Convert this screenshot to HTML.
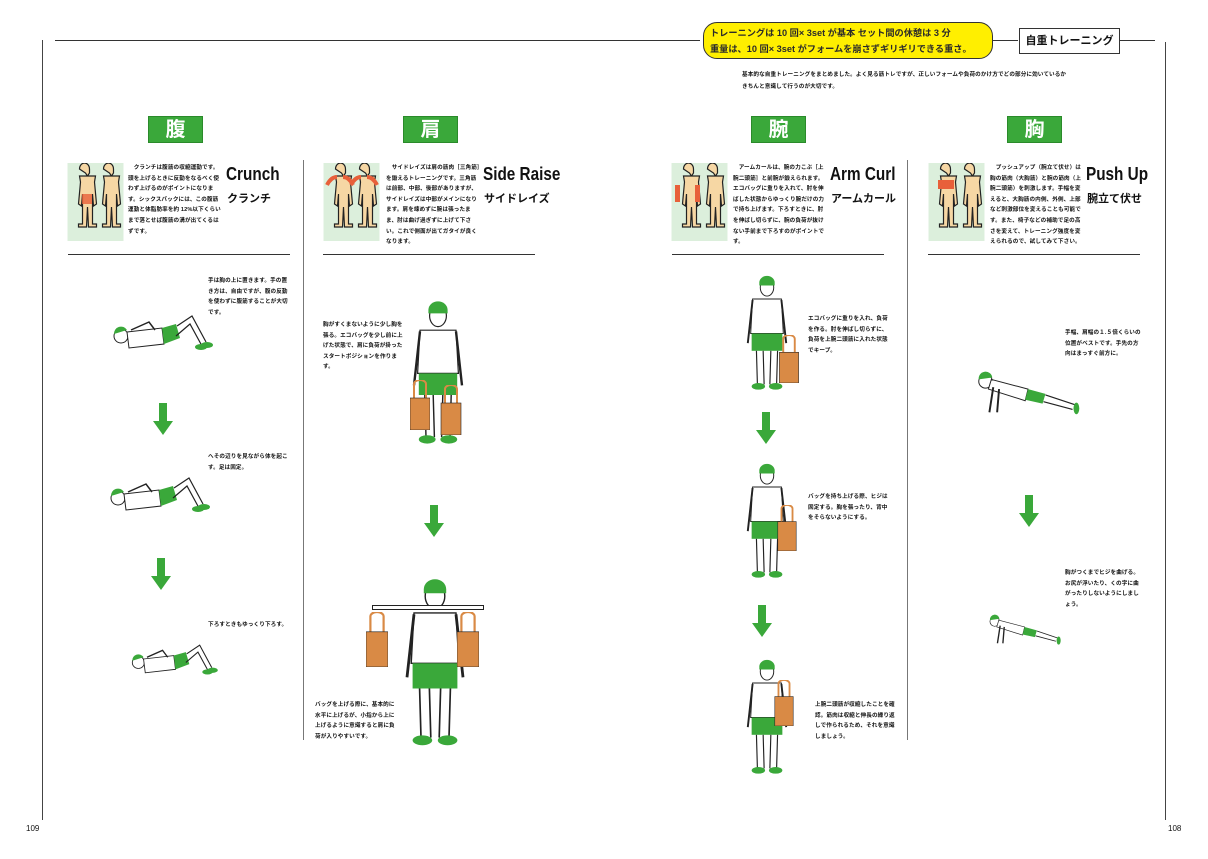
<!DOCTYPE html>
<html><head><meta charset="utf-8"><style>
*{margin:0;padding:0;box-sizing:border-box}
body{width:1208px;height:859px;background:#fff;position:relative;overflow:hidden;font-family:"Liberation Sans","Noto Sans CJK JP",sans-serif;color:#111}
.a{position:absolute}
.lbl{position:absolute;width:55px;height:27px;background:#3aa83a;color:#fff;font-size:20px;font-weight:bold;text-align:center;line-height:27px;border:1px solid #2a8a2a}
.sm{position:absolute;font-size:5.6px;line-height:10.6px;font-weight:bold;letter-spacing:0.1px}
.tt{position:absolute;font-family:"Liberation Sans Narrow","Liberation Sans",sans-serif;font-weight:bold;font-size:18px;transform:scaleX(0.85);transform-origin:left}
.tj{position:absolute;font-size:11px;font-weight:bold}
.hr{position:absolute;height:1px;background:#333}
.vr{position:absolute;width:1px;background:#777}
</style></head><body>
<svg width="0" height="0" style="position:absolute">
<defs>
<symbol id="body" viewBox="0 0 56 78">
<rect width="56" height="78" fill="#dcefdc"/>
<g fill="#f6d7a4" stroke="#222" stroke-width="1.2">
<path d="M15 6a5 6 0 0 1 10 0v4l-2 3h8l-1 6 2 22-3 2-1-12v30h4v3h-8l-1-20-1 20h-8v-3h4V31l-1 12-3-2 2-22-1-6h8l-2-3z" transform="translate(-3,0)"/>
<path d="M15 6a5 6 0 0 1 10 0v4l-2 3h8l-1 6 2 22-3 2-1-12v30h4v3h-8l-1-20-1 20h-8v-3h4V31l-1 12-3-2 2-22-1-6h8l-2-3z" transform="translate(21,0)"/>
</g></symbol>
<symbol id="stand" viewBox="0 0 50 125">
<ellipse cx="25" cy="14" rx="7" ry="9" fill="#fff" stroke="#222"/>
<path d="M17 9a8 7 0 0 1 16 0l0 3H17z" fill="#3aa83a"/>
<path d="M10 26h30l2 36H8z" fill="#fff" stroke="#222"/>
<path d="M10 27l-5 45M40 27l5 45" stroke="#222" stroke-width="2" fill="none"/>
<rect x="9" y="62" width="32" height="18" fill="#3aa83a"/>
<path d="M14 80l1 35M36 80l-1 35M21 80l1 35M29 80l-1 35" stroke="#222" stroke-width="1.2"/>
<ellipse cx="16" cy="117" rx="7" ry="3.5" fill="#3aa83a"/>
<ellipse cx="34" cy="117" rx="7" ry="3.5" fill="#3aa83a"/>
</symbol>
<symbol id="lie" viewBox="0 0 110 40">
<ellipse cx="12" cy="24" rx="7" ry="7" fill="#fff" stroke="#222"/>
<path d="M5 22a7 7 0 0 1 13-4z" fill="#3aa83a"/>
<path d="M18 20l35-4 2 16-35 4z" fill="#fff" stroke="#222"/>
<path d="M22 18l18-8 6 8" stroke="#222" fill="none" stroke-width="1.5"/>
<path d="M53 16l14-4 4 14-16 6z" fill="#3aa83a"/>
<path d="M68 14l15-10 14 26M67 24l14-12 12 22" stroke="#222" fill="none" stroke-width="1.2"/>
<ellipse cx="98" cy="33" rx="6" ry="3" fill="#3aa83a"/>
<ellipse cx="92" cy="35" rx="6" ry="3" fill="#3aa83a"/>
</symbol>
<symbol id="push" viewBox="0 0 120 50">
<ellipse cx="14" cy="14" rx="7" ry="7" fill="#fff" stroke="#222"/>
<path d="M7 12a7 7 0 0 1 14-2z" fill="#3aa83a"/>
<path d="M20 12l38 10-3 12-38-12z" fill="#fff" stroke="#222"/>
<path d="M58 22l18 5-3 10-18-4z" fill="#3aa83a"/>
<path d="M76 28l30 10M74 35l30 8" stroke="#222" stroke-width="1.2"/>
<path d="M22 20l-4 26M28 22l-2 24" stroke="#222" stroke-width="2"/>
<ellipse cx="108" cy="42" rx="3" ry="6" fill="#3aa83a"/>
</symbol>
<symbol id="arr" viewBox="0 0 20 32"><path d="M6 0h8v18h6L10 32 0 18h6z" fill="#3aa83a"/></symbol>
<symbol id="bag" viewBox="0 0 20 50"><path d="M4 18V4a6 4 0 0 1 12 0v14" stroke="#d98a45" stroke-width="2" fill="none"/><rect x="0" y="18" width="20" height="32" fill="#d98a45" stroke="#222" stroke-width=".6"/></symbol>
</defs></svg>

<!-- frame -->
<div class="hr" style="left:55px;top:40px;width:645px"></div>
<div class="hr" style="left:993px;top:40px;width:25px"></div>
<div class="hr" style="left:1120px;top:40px;width:35px"></div>
<div class="vr" style="left:42px;top:40px;height:780px;background:#444"></div>
<div class="vr" style="left:1165px;top:42px;height:778px;background:#444"></div>
<div class="a" style="left:26px;top:824px;font-size:8px">109</div>
<div class="a" style="left:1168px;top:824px;font-size:8px">108</div>

<div class="a" style="left:703px;top:22px;width:290px;height:37px;background:#ffef00;border:1.5px solid #333;border-radius:14px;padding:2px 6px;font-size:9.2px;line-height:16px;font-weight:bold;color:#2a2a2a;white-space:nowrap;overflow:hidden">トレーニングは 10 回× 3set が基本 セット間の休憩は 3 分<br>重量は、10 回× 3set がフォームを崩さずギリギリできる重さ。</div>
<div class="a" style="left:1019px;top:28px;width:101px;height:26px;border:1px solid #333;font-size:11px;font-weight:bold;text-align:center;line-height:24px">自重トレーニング</div>
<div class="sm" style="left:742px;top:69px;width:400px;line-height:12px"> 基本的な自重トレーニングをまとめました。よく見る筋トレですが、正しいフォームや負荷のかけ方でどの部分に効いているか<br>きちんと意識して行うのが大切です。</div>

<div class="lbl" style="left:148px;top:116px">腹</div>
<div class="lbl" style="left:403px;top:116px">肩</div>
<div class="lbl" style="left:751px;top:116px">腕</div>
<div class="lbl" style="left:1007px;top:116px">胸</div>

<svg class="a" style="left:67px;top:163px" width="57" height="78"><use href="#body"/><rect x="15" y="31" width="10" height="10" fill="#e8603a" opacity=".8"/></svg>
<svg class="a" style="left:323px;top:163px" width="57" height="78"><use href="#body"/><path d="M4 22q4-8 10-8M30 22q-4-8-10-8M28 22q4-8 10-8M54 22q-4-8-10-8" stroke="#e8603a" stroke-width="4" fill="none"/></svg>
<svg class="a" style="left:671px;top:163px" width="57" height="78"><use href="#body"/><rect x="4" y="22" width="5" height="17" fill="#e8603a"/><rect x="24" y="22" width="5" height="17" fill="#e8603a"/></svg>
<svg class="a" style="left:928px;top:163px" width="57" height="78"><use href="#body"/><rect x="10" y="17" width="16" height="9" fill="#e8603a"/></svg>

<div class="sm" style="left:128px;top:163px;width:95px">　クランチは腹筋の収縮運動です。頭を上げるときに反動をなるべく使わず上げるのがポイントになります。シックスパックには、この腹筋運動と体脂肪率を約 12%以下くらいまで落とせば腹筋の溝が出てくるはずです。</div>
<div class="tt" style="left:226px;top:164px">Crunch</div>
<div class="tj" style="left:227px;top:190px">クランチ</div>

<div class="sm" style="left:386px;top:163px;width:94px">　サイドレイズは肩の筋肉［三角筋］を鍛えるトレーニングです。三角筋は前部、中部、後部がありますが、サイドレイズは中部がメインになります。肩を竦めずに腕は張ったまま、肘は曲げ過ぎずに上げて下さい。これで側面が出てガタイが良くなります。</div>
<div class="tt" style="left:483px;top:164px">Side Raise</div>
<div class="tj" style="left:484px;top:190px">サイドレイズ</div>

<div class="sm" style="left:733px;top:163px;width:96px">　アームカールは、腕の力こぶ［上腕二頭筋］と前腕が鍛えられます。エコバッグに重りを入れて、肘を伸ばした状態からゆっくり腕だけの力で持ち上げます。下ろすときに、肘を伸ばし切らずに、腕の負荷が抜けない手前まで下ろすのがポイントです。</div>
<div class="tt" style="left:830px;top:164px">Arm Curl</div>
<div class="tj" style="left:831px;top:190px">アームカール</div>

<div class="sm" style="left:990px;top:163px;width:93px">　プッシュアップ（腕立て伏せ）は胸の筋肉（大胸筋）と腕の筋肉（上腕二頭筋）を刺激します。手幅を変えると、大胸筋の内側、外側、上部など刺激部位を変えることも可能です。また、椅子などの補助で足の高さを変えて、トレーニング強度を変えられるので、試してみて下さい。</div>
<div class="tt" style="left:1086px;top:164px">Push Up</div>
<div class="tj" style="left:1087px;top:190px">腕立て伏せ</div>

<div class="hr" style="left:68px;top:254px;width:222px"></div>
<div class="hr" style="left:323px;top:254px;width:212px"></div>
<div class="hr" style="left:672px;top:254px;width:212px"></div>
<div class="hr" style="left:928px;top:254px;width:212px"></div>
<div class="vr" style="left:303px;top:160px;height:580px"></div>
<div class="vr" style="left:907px;top:160px;height:580px"></div>

<!-- crunch -->
<div class="sm" style="left:208px;top:276px;width:80px">手は胸の上に置きます。手の置き方は、自由ですが、腹の反動を使わずに腹筋することが大切です。</div>
<svg class="a" style="left:108px;top:312px" width="112" height="40"><use href="#lie"/></svg>
<svg class="a" style="left:153px;top:403px" width="20" height="32"><use href="#arr"/></svg>
<div class="sm" style="left:208px;top:452px;width:80px">へその辺りを見ながら体を起こす。足は固定。</div>
<svg class="a" style="left:105px;top:474px" width="112" height="40"><use href="#lie"/></svg>
<svg class="a" style="left:151px;top:558px" width="20" height="32"><use href="#arr"/></svg>
<div class="sm" style="left:208px;top:620px;width:80px">下ろすときもゆっくり下ろす。</div>
<svg class="a" style="left:128px;top:635px" width="95" height="48"><use href="#lie"/></svg>

<!-- side raise -->
<div class="sm" style="left:323px;top:320px;width:80px">胸がすくまないように少し胸を張る。エコバッグを少し前に上げた状態で、肩に負荷が掛ったスタートポジションを作ります。</div>
<svg class="a" style="left:408px;top:285px" width="60" height="178"><use href="#stand" width="60" height="178"/></svg>
<svg class="a" style="left:410px;top:380px" width="20" height="50"><use href="#bag"/></svg>
<svg class="a" style="left:440px;top:385px" width="22" height="50"><use href="#bag"/></svg>
<svg class="a" style="left:424px;top:505px" width="20" height="32"><use href="#arr"/></svg>
<svg class="a" style="left:400px;top:575px" width="70" height="178"><use href="#stand" width="70" height="178"/></svg>
<div class="a" style="left:372px;top:605px;width:112px;height:5px;background:#fff;border:1px solid #222"></div>
<svg class="a" style="left:366px;top:612px" width="22" height="55"><use href="#bag"/></svg>
<svg class="a" style="left:457px;top:612px" width="22" height="55"><use href="#bag"/></svg>
<div class="sm" style="left:315px;top:700px;width:80px">バッグを上げる際に、基本的に水平に上げるが、小指から上に上げるように意識すると肩に負荷が入りやすいです。</div>

<!-- arm curl -->
<svg class="a" style="left:743px;top:272px" width="48" height="124"><use href="#stand"/></svg>
<svg class="a" style="left:778px;top:335px" width="22" height="48"><use href="#bag"/></svg>
<div class="sm" style="left:808px;top:314px;width:80px">エコバッグに重りを入れ、負荷を作る。肘を伸ばし切らずに、負荷を上腕二頭筋に入れた状態でキープ。</div>
<svg class="a" style="left:756px;top:412px" width="20" height="32"><use href="#arr"/></svg>
<svg class="a" style="left:743px;top:460px" width="48" height="124"><use href="#stand"/></svg>
<svg class="a" style="left:776px;top:505px" width="22" height="46"><use href="#bag"/></svg>
<div class="sm" style="left:808px;top:492px;width:80px">バッグを持ち上げる際、ヒジは固定する。胸を張ったり、背中をそらないようにする。</div>
<svg class="a" style="left:752px;top:605px" width="20" height="32"><use href="#arr"/></svg>
<svg class="a" style="left:743px;top:656px" width="48" height="124"><use href="#stand"/></svg>
<svg class="a" style="left:773px;top:680px" width="22" height="46"><use href="#bag"/></svg>
<div class="sm" style="left:815px;top:700px;width:82px">上腕二頭筋が収縮したことを確認。筋肉は収縮と伸長の繰り返しで作られるため、それを意識しましょう。</div>

<!-- push up -->
<div class="sm" style="left:1065px;top:328px;width:76px">手幅、肩幅の１.５倍くらいの位置がベストです。手先の方向はまっすぐ前方に。</div>
<svg class="a" style="left:972px;top:366px" width="116" height="52"><use href="#push"/></svg>
<svg class="a" style="left:1019px;top:495px" width="20" height="32"><use href="#arr"/></svg>
<div class="sm" style="left:1065px;top:568px;width:76px">胸がつくまでヒジを曲げる。お尻が浮いたり、くの字に曲がったりしないようにしましょう。</div>
<svg class="a" style="left:965px;top:612px" width="122" height="34"><use href="#push" preserveAspectRatio="none"/></svg>
</body></html>
